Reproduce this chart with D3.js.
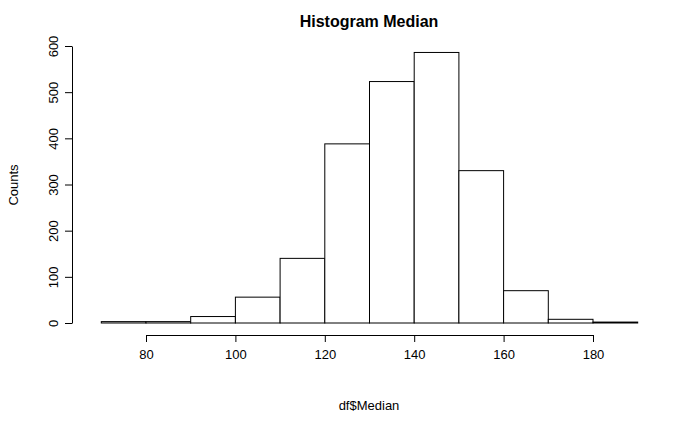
<!DOCTYPE html>
<html><head><meta charset="utf-8">
<script src="https://cdn.jsdelivr.net/npm/d3@7"></script>
<style>body{margin:0;background:#fff}text{font-family:"Liberation Sans",Arial,sans-serif}</style>
</head><body><svg id="c" width="700" height="432"></svg>
<script>
const binStarts=[70,80,90,100,110,120,130,140,150,160,170,180];
const counts=[3,3,14,56,140,388,523,586,330,70,8,2];
const xTicks=[80,100,120,140,160,180];
const yTicks=[0,100,200,300,400,500,600];
const svg=d3.select("#c");
const x=d3.scaleLinear().domain([80,180]).range([146,593]);
const y=d3.scaleLinear().domain([0,600]).range([323,46]);
svg.selectAll("rect").data(binStarts).enter().append("rect")
 .attr("x",d=>x(d)).attr("width",d=>x(d+10)-x(d))
 .attr("y",(d,i)=>y(counts[i])).attr("height",(d,i)=>y(0)-y(counts[i]))
 .attr("fill","#fff").attr("stroke","#000").attr("stroke-width",1);
const xa=svg.append("g").attr("transform","translate(0,335)")
 .call(d3.axisBottom(x).tickValues(xTicks).tickSize(7).tickPadding(8).tickSizeOuter(0));
const ya=svg.append("g").attr("transform","translate(72,0)")
 .call(d3.axisLeft(y).tickValues(yTicks).tickSize(7).tickPadding(6).tickSizeOuter(0));
[xa,ya].forEach(a=>{a.selectAll("text").attr("font-size",13).attr("fill","#000");a.select(".domain").attr("stroke","#000");a.selectAll("line").attr("stroke","#000");});
ya.selectAll(".tick text").attr("transform",function(){const t=d3.select(this);return "rotate(-90)";})
 .attr("text-anchor","middle").attr("x",0).attr("y",-14).attr("dy",0);
ya.selectAll(".tick text").each(function(){});
ya.selectAll(".tick").each(function(d){d3.select(this).select("text").attr("transform","rotate(-90)");});
svg.append("text").attr("x",369).attr("y",27).attr("text-anchor","middle").attr("font-weight","bold").attr("font-size",16).text("Histogram Median");
svg.append("text").attr("x",369).attr("y",410).attr("text-anchor","middle").attr("font-size",13).text("df$Median");
svg.append("text").attr("transform","translate(18,185) rotate(-90)").attr("text-anchor","middle").attr("font-size",13).text("Counts");
</script></body></html>
